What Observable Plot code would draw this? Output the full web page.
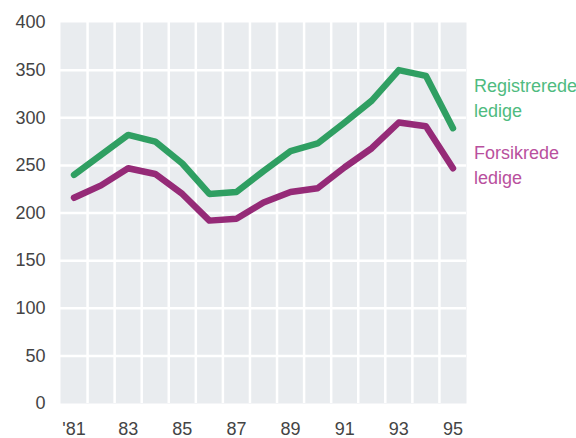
<!DOCTYPE html>
<html><head><meta charset="utf-8">
<script src="https://cdn.jsdelivr.net/npm/d3@7"></script>
<script src="https://cdn.jsdelivr.net/npm/@observablehq/plot@0.6"></script>
<style>body{margin:0;background:#fff}</style>
</head><body><div id="chart"></div>
<script>
const years = [1981,1982,1983,1984,1985,1986,1987,1988,1989,1990,1991,1992,1993,1994,1995];
const registrerede = [240,261,282,275,252,220,222,244,265,273,295,318,350,344,289];
const forsikrede = [216,229,247,241,220,192,194,211,222,226,248,268,295,291,247];
const yTicks = [0,50,100,150,200,250,300,350,400];
const xTicks = [1981,1983,1985,1987,1989,1991,1993,1995];
const xTickLabels = ["'81","83","85","87","89","91","93","95"];
const seriesNames = ["Registrerede\nledige","Forsikrede\nledige"];
const lineColors = ["#2f9f62","#952a77"];
const textColors = ["#4fbb80","#b9509e"];

const n = years.length - 1;
const rowsR = years.map((yr,i)=>({year:yr, value:registrerede[i]}));
const rowsF = years.map((yr,i)=>({year:yr, value:forsikrede[i]}));
const gridX = years.slice(0,-1).map(y=>y+0.5);
const labelStyle = {textAnchor:"start", dx:21, lineHeight:1.38, fontSize:18,
  fontFamily:"Liberation Sans Narrow, Liberation Sans, sans-serif"};

const chart = Plot.plot({
  width:576, height:438,
  marginLeft:60, marginRight:110, marginTop:22, marginBottom:35,
  x:{domain:[years[0]-0.5, years[n]+0.5]},
  y:{domain:[yTicks[0], yTicks[yTicks.length-1]]},
  style:{fontFamily:"Liberation Sans, Arial, sans-serif", fontSize:"18px", color:"#444", background:"white"},
  marks:[
    Plot.frame({fill:"#e9ecef", stroke:null}),
    Plot.ruleY(yTicks.slice(1,-1), {stroke:"white", strokeWidth:2.5}),
    Plot.ruleX(gridX, {stroke:"white", strokeWidth:2.5}),
    Plot.axisY({ticks:yTicks, tickSize:0, tickPadding:15, label:null, fontSize:18}),
    Plot.axisX({ticks:xTicks, tickSize:0, tickPadding:19, label:null, fontSize:18,
      tickFormat:d=>xTickLabels[xTicks.indexOf(d)]}),
    Plot.line(rowsF, {x:"year", y:"value", stroke:lineColors[1], strokeWidth:6.5, strokeLinejoin:"round", strokeLinecap:"round"}),
    Plot.line(rowsR, {x:"year", y:"value", stroke:lineColors[0], strokeWidth:6.5, strokeLinejoin:"round", strokeLinecap:"round"}),
    Plot.text([rowsR[n]], {x:"year", y:"value", text:()=>seriesNames[0], fill:textColors[0], dy:-32, ...labelStyle}),
    Plot.text([rowsF[n]], {x:"year", y:"value", text:()=>seriesNames[1], fill:textColors[1], dy:-5, ...labelStyle})
  ]
});
document.getElementById("chart").append(chart);
</script>
</body></html>
